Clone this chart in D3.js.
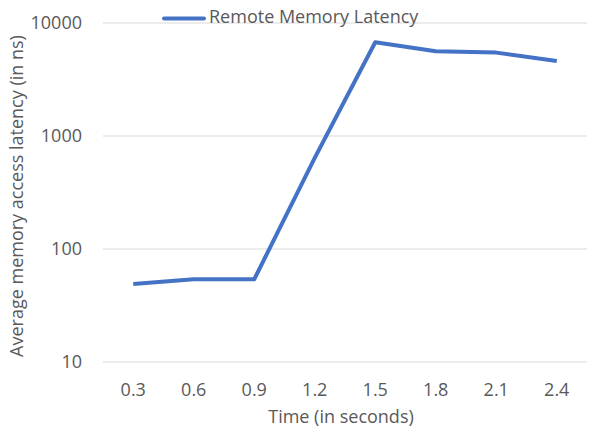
<!DOCTYPE html>
<html>
<head>
<meta charset="utf-8">
<script src="https://cdn.jsdelivr.net/npm/d3@7"></script>
<style>
  body { margin: 0; background: #fff; }
  text { font-family: "Open Sans", Lato, sans-serif; fill: #595959; }
</style>
</head>
<body>
<svg width="593" height="440"></svg>
<script>
let times = ['0.3', '0.6', '0.9', '1.2', '1.5', '1.8', '2.1', '2.4'];
let latency = [49, 54, 54, 640, 6750, 5620, 5470, 4610];
let yTicks = [10, 100, 1000, 10000];
let seriesName = 'Remote Memory Latency';

let margin = {top: 23, right: 6, bottom: 78, left: 103},
    width = 593 - margin.left - margin.right,
    height = 440 - margin.top - margin.bottom;

let fontSize = 18;

var svg = d3.select('svg');
let g = svg.append('g')
    .attr('transform', `translate(${margin.left}, ${margin.top})`);

var x = d3.scaleBand().domain(times).range([0, width]);
var y = d3.scaleLog().domain([10, 10000]).range([height, 0]);

// gridlines
g.selectAll('.grid')
    .data(yTicks)
    .enter()
    .append('line')
    .attr('x1', 0)
    .attr('x2', width)
    .attr('y1', d => y(d))
    .attr('y2', d => y(d))
    .attr('stroke', '#d9d9d9')
    .attr('stroke-width', 1);

// y labels
g.selectAll('.ylab')
    .data(yTicks)
    .enter()
    .append('text')
    .attr('x', -21)
    .attr('y', d => y(d))
    .attr('dy', '0.35em')
    .attr('text-anchor', 'end')
    .attr('font-size', fontSize)
    .text(d => d);

// x labels
g.selectAll('.xlab')
    .data(times)
    .enter()
    .append('text')
    .attr('x', d => x(d) + x.bandwidth() / 2)
    .attr('y', height + 28)
    .attr('dy', '0.35em')
    .attr('text-anchor', 'middle')
    .attr('font-size', fontSize)
    .text(d => d);

var line = d3.line()
    .x((d, i) => x(times[i]) + x.bandwidth() / 2)
    .y(d => y(d));

g.append('path')
    .datum(latency)
    .attr('d', line)
    .attr('fill', 'none')
    .attr('stroke', '#4472c4')
    .attr('stroke-width', 4)
    .attr('stroke-linejoin', 'round');

// axis titles
svg.append('text')
    .attr('x', 341)
    .attr('y', 417)
    .attr('dy', '0.35em')
    .attr('text-anchor', 'middle')
    .attr('font-size', fontSize)
    .text('Time (in seconds)');

svg.append('text')
    .attr('transform', 'translate(17, 196) rotate(-90)')
    .attr('dy', '0.35em')
    .attr('text-anchor', 'middle')
    .attr('font-size', fontSize)
    .text('Average memory access latency (in ns)');

// legend
svg.append('line')
    .attr('x1', 164).attr('x2', 204)
    .attr('y1', 18.5).attr('y2', 18.5)
    .attr('stroke', '#4472c4')
    .attr('stroke-width', 4)
    .attr('stroke-linecap', 'round');

svg.append('text')
    .attr('x', 209)
    .attr('y', 17)
    .attr('dy', '0.35em')
    .attr('font-size', fontSize)
    .text(seriesName);
</script>
</body>
</html>
